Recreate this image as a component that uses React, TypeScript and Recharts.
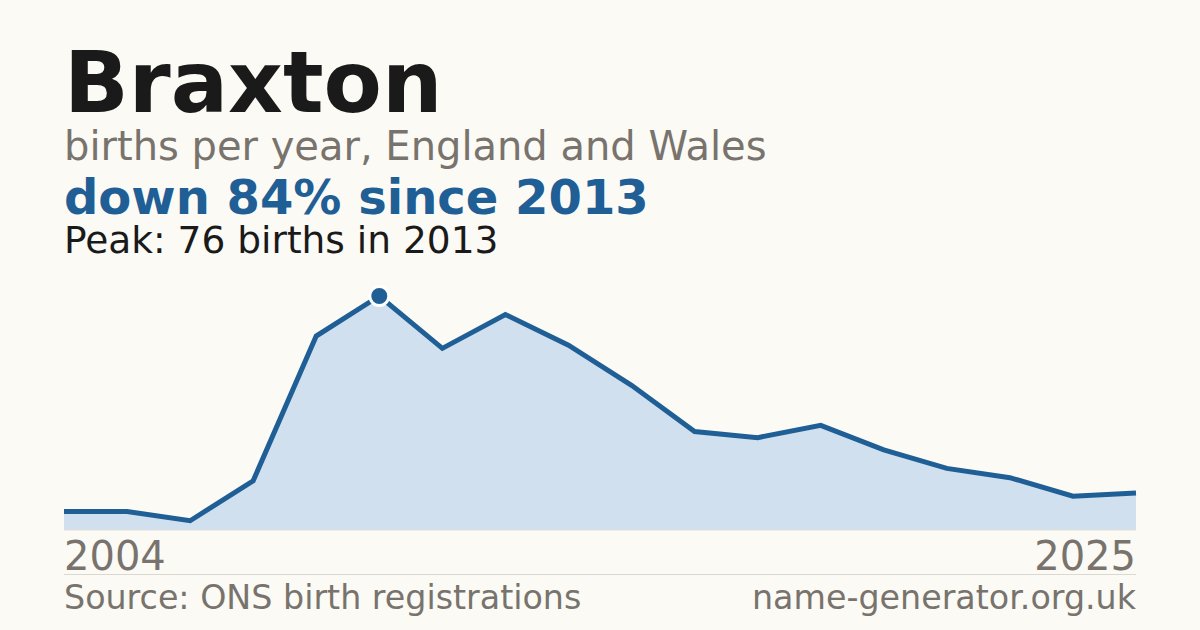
import React from "react";
import {
  AreaChart,
  Area,
  XAxis,
  YAxis,
  ReferenceDot,
} from "recharts";

const years = [
  "2004", "2008", "2010", "2011", "2012", "2013", "2014", "2015", "2016",
  "2017", "2018", "2019", "2020", "2021", "2022", "2023", "2024", "2025",
];
const births = [6, 6, 3, 16, 63, 76, 59, 70, 60, 47, 32, 30, 34, 26, 20, 17, 11, 12];

const data = years.map((year, i) => ({ year, births: births[i] }));

const peakIndex = births.indexOf(Math.max(...births));
const peakYear = years[peakIndex];
const peakValue = births[peakIndex];

const FONT = "'DejaVu Sans', sans-serif";
const BLUE = "#1f5f96";
const GREY = "#78736c";
const INK = "#1a1a1a";

const YearTick = (props: any) => {
  const { x, y, payload } = props;
  const first = payload.value === years[0];
  return (
    <text
      x={x}
      y={y + 40}
      textAnchor={first ? "start" : "end"}
      fill={GREY}
      fontSize={40}
      fontFamily={FONT}
    >
      {payload.value}
    </text>
  );
};

const line = (top: number, size: number, color: string, weight: number, text: string) => (
  <div
    style={{
      position: "absolute",
      left: 64,
      top,
      fontSize: size,
      lineHeight: 0.9,
      color,
      fontWeight: weight,
      fontFamily: FONT,
      whiteSpace: "nowrap",
    }}
  >
    {text}
  </div>
);

export default function App() {
  return (
    <div
      style={{
        position: "absolute",
        left: 0,
        top: 0,
        width: 1200,
        height: 630,
        background: "#fbfaf5",
        overflow: "hidden",
      }}
    >
      <div style={{ position: "absolute", left: 0, top: 0 }}>
        <AreaChart
          width={1200}
          height={630}
          data={data}
          margin={{ top: 296, right: 64, bottom: 0, left: 64 }}
        >
          <YAxis hide domain={[0, peakValue]} />
          <XAxis
            dataKey="year"
            height={100}
            ticks={[years[0], years[years.length - 1]]}
            interval={0}
            tickLine={false}
            tickSize={0}
            tickMargin={0}
            axisLine={{ stroke: "#e2ddd4", strokeWidth: 1 }}
            tick={<YearTick />}
          />
          <Area
            type="linear"
            dataKey="births"
            stroke={BLUE}
            strokeWidth={5}
            fill="#d0e0ef"
            fillOpacity={1}
            dot={false}
            activeDot={false}
            isAnimationActive={false}
          />
          <ReferenceDot
            x={peakYear}
            y={peakValue}
            r={9.5}
            fill={BLUE}
            stroke="#ffffff"
            strokeWidth={3}
          />
        </AreaChart>
      </div>

      {line(45, 85, INK, 700, "Braxton")}
      {line(128, 40, GREY, 400, "births per year, England and Wales")}
      {line(176, 48, BLUE, 700, "down 84% since 2013")}
      {line(224, 37.5, INK, 400, "Peak: 76 births in 2013")}

      <div
        style={{
          position: "absolute",
          left: 64,
          top: 574,
          width: 1072,
          height: 1,
          background: "#dcd8d0",
        }}
      />
      {line(583, 33.3, GREY, 400, "Source: ONS birth registrations")}
      <div
        style={{
          position: "absolute",
          right: 64,
          top: 583,
          fontSize: 33.3,
          lineHeight: 0.9,
          color: GREY,
          fontFamily: FONT,
          whiteSpace: "nowrap",
        }}
      >
        name-generator.org.uk
      </div>
    </div>
  );
}
